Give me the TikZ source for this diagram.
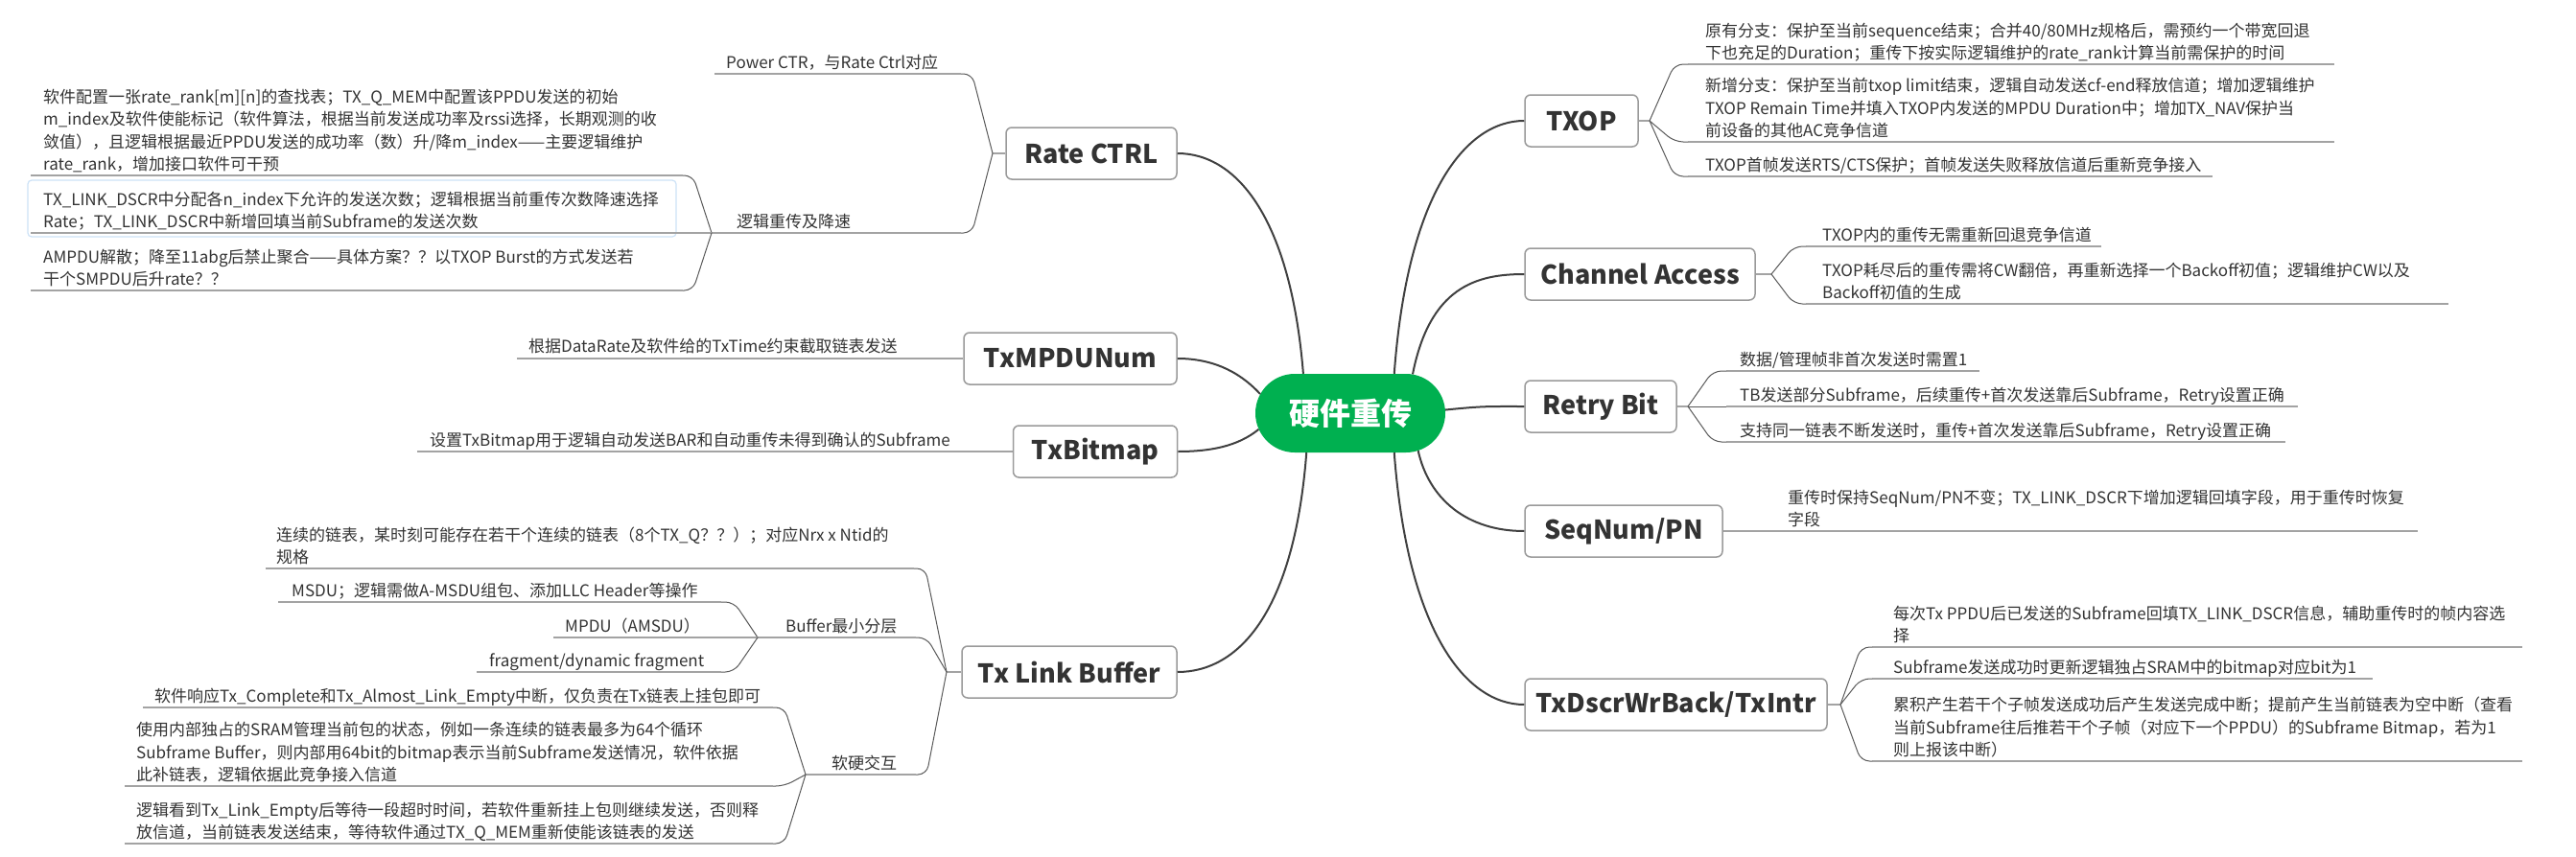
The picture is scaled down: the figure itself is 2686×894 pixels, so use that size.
\documentclass[tikz,border=0pt]{standalone}
\usepackage{fontspec}
\setmainfont{Noto Sans CJK SC}
\usetikzlibrary{shapes.misc,calc}
\definecolor{txt}{HTML}{333333}
\definecolor{boxgray}{HTML}{9A9A9A}
\definecolor{ulgray}{HTML}{A3A3A3}
\definecolor{brgray}{HTML}{5A5A5A}
\definecolor{cngray}{HTML}{404040}
\definecolor{hubgreen}{HTML}{00B050}
\definecolor{hilite}{HTML}{CDE2F7}
\newcommand{\detfnt}{\fontsize{17}{23.5}\selectfont}
\newcommand{\mainfnt}{\fontsize{27}{32}\selectfont\bfseries}
\newcommand{\hubfnt}{\fontsize{32}{38}\selectfont\bfseries}
\newcommand{\mybrk}[4]{\draw[brace,rounded corners=9pt] (#1,#2) -- ({#1+0.35*(#3-#1)},#2) -- (#3,#4);}
\tikzset{
  mainbox/.style={draw=boxgray, line width=1.5pt, rounded corners=6pt, fill=white, font=\mainfnt, text=txt, minimum height=54pt, inner sep=0pt},
  hub/.style={rounded rectangle, fill=hubgreen, text=white, font=\hubfnt, minimum width=198pt, minimum height=82pt, inner sep=0pt},
  det/.style={font=\detfnt, text=txt, align=left, inner sep=0pt, anchor=south west, text depth=0pt},
  uline/.style={draw=ulgray, line width=2pt},
  brace/.style={draw=brgray, line width=1pt},
  conn/.style={draw=cngray, line width=2pt},
}
\begin{document}
\begin{tikzpicture}[x=1pt,y=-1pt]
\useasboundingbox (0,0) rectangle (2686,894);
\fill[white] (0,0) rectangle (2686,894);

% hub and main topics
\node[hub] (hub) at (1408,431) {硬件重传};
\node[mainbox, minimum width=178pt] (rate) at (1138,160) {Rate CTRL};
\node[mainbox, minimum width=222pt] (mpdu) at (1116,374) {TxMPDUNum};
\node[mainbox, minimum width=171pt] (bitmap) at (1142,471) {TxBitmap};
\node[mainbox, minimum width=224pt] (tlb) at (1115,701) {Tx Link Buffer};
\node[mainbox, minimum width=118pt] (txop) at (1649,126) {TXOP};
\node[mainbox, minimum width=240pt] (chan) at (1710,286) {Channel Access};
\node[mainbox, minimum width=158pt] (retry) at (1669,424) {Retry Bit};
\node[mainbox, minimum width=206pt] (seq) at (1693,554) {SeqNum/PN};
\node[mainbox, minimum width=315pt] (dscr) at (1747.5,735) {TxDscrWrBack/TxIntr};

% main connectors
\draw[conn] (hub.140) .. controls +(-13,-160) and +(63,0) .. (rate.east);
\draw[conn] (hub.168) .. controls +(-24,-26) and +(33,0) .. (mpdu.east);
\draw[conn] (hub.190) .. controls +(-22,18) and +(33,0) .. (bitmap.east);
\draw[conn] (hub.-138) .. controls +(-13,168) and +(63,0) .. (tlb.east);
\draw[conn] (hub.42) .. controls +(14,-190) and +(-60,0) .. (txop.west);
\draw[conn] (hub.32) .. controls +(18,-91) and +(-50,0) .. (chan.west);
\draw[conn] (hub.2) .. controls +(40,-4) and +(-40,0) .. (retry.west);
\draw[conn] (hub.-29) .. controls +(11,50) and +(-60,0) .. (seq.west);
\draw[conn] (hub.-42) .. controls +(14,188) and +(-60,0) .. (dscr.west);

% ---------- Rate CTRL ----------
\coordinate (jrc) at (1035,160);
\draw[uline, line width=1.5pt] (rate.west) -- (jrc);
\node[det] (pw) at (757,72) {Power CTR，与Rate Ctrl对应};
\draw[uline] (745,77) -- (1002,77);
\mybrk{1002}{77}{1035}{160}
\node[det] (lj) at (768,238) {逻辑重传及降速};
\draw[uline] (742,243) -- (1002,243);
\mybrk{1002}{243}{1035}{160}
\draw[hilite, line width=1.2pt, rounded corners=4pt] (29,188) rectangle (705,247);
\node[det] (rc1) at (45,178) {软件配置一张rate\_rank[m][n]的查找表；TX\_Q\_MEM中配置该PPDU发送的初始\\m\_index及软件使能标记（软件算法，根据当前发送成功率及rssi选择，长期观测的收\\敛值），且逻辑根据最近PPDU发送的成功率（数）升/降m\_index——主要逻辑维护\\rate\_rank，增加接口软件可干预};
\draw[uline] (32,183) -- (712,183);
\mybrk{712}{183}{742}{243}
\node[det] (rc2) at (45,238) {TX\_LINK\_DSCR中分配各n\_index下允许的发送次数；逻辑根据当前重传次数降速选择\\Rate；TX\_LINK\_DSCR中新增回填当前Subframe的发送次数};
\draw[uline] (32,243) -- (742,243);
\node[det] (rc3) at (45,298) {AMPDU解散；降至11abg后禁止聚合——具体方案？？以TXOP Burst的方式发送若\\干个SMPDU后升rate？？};
\draw[uline] (32,303) -- (712,303);
\mybrk{712}{303}{742}{243}

% ---------- TxMPDUNum / TxBitmap ----------
\node[det] (mp1) at (551,368) {根据DataRate及软件给的TxTime约束截取链表发送};
\draw[uline] (539,374) -- (mpdu.west);
\node[det] (bm1) at (448,466) {设置TxBitmap用于逻辑自动发送BAR和自动重传未得到确认的Subframe};
\draw[uline] (435,471) -- (bitmap.west);

% ---------- Tx Link Buffer ----------
\coordinate (jtl) at (987,701);
\draw[uline, line width=1.5pt] (tlb.west) -- (jtl);
\node[det] (lb1) at (288,588) {连续的链表，某时刻可能存在若干个连续的链表（8个TX\_Q？？）；对应Nrx x Ntid的\\规格};
\draw[uline] (277,593) -- (953,593);
\mybrk{953}{593}{987}{701}
\node[det] (bf) at (819,660) {Buffer最小分层};
\draw[uline] (790,665) -- (955,665);
\mybrk{955}{665}{987}{701}
\node[det] (msdu) at (304,623) {MSDU；逻辑需做A-MSDU组包、添加LLC Header等操作};
\draw[uline] (290,628) -- (752,628);
\mybrk{752}{628}{790}{665}
\node[det] (amsdu) at (589,660) {MPDU（AMSDU）};
\draw[uline] (577,665) -- (790,665);
\node[det] (frag) at (510,696) {fragment/dynamic fragment};
\draw[uline] (497,701) -- (752,701);
\mybrk{752}{701}{790}{665}
\node[det] (rh) at (867,803) {软硬交互};
\draw[uline] (840,808) -- (955,808);
\mybrk{955}{808}{987}{701}
\node[det] (sw1) at (161,733) {软件响应Tx\_Complete和Tx\_Almost\_Link\_Empty中断，仅负责在Tx链表上挂包即可};
\draw[uline] (149,738) -- (806,738);
\mybrk{806}{738}{840}{808}
\node[det] (sw2) at (142,815) {使用内部独占的SRAM管理当前包的状态，例如一条连续的链表最多为64个循环\\Subframe Buffer，则内部用64bit的bitmap表示当前Subframe发送情况，软件依据\\此补链表，逻辑依据此竞争接入信道};
\draw[uline] (130,820) -- (806,820);
\mybrk{806}{820}{840}{808}
\node[det] (sw3) at (142,875) {逻辑看到Tx\_Link\_Empty后等待一段超时时间，若软件重新挂上包则继续发送，否则释\\放信道，当前链表发送结束，等待软件通过TX\_Q\_MEM重新使能该链表的发送};
\draw[uline] (130,880) -- (806,880);
\mybrk{806}{880}{840}{808}

% ---------- TXOP ----------
\coordinate (jtx) at (1720,126);
\draw[uline, line width=1.5pt] (txop.east) -- (jtx);
\node[det] (t1) at (1778,62) {原有分支：保护至当前sequence结束；合并40/80MHz规格后，需预约一个带宽回退\\下也充足的Duration；重传下按实际逻辑维护的rate\_rank计算当前需保护的时间};
\draw[uline] (1760,67) -- (2434,67);
\mybrk{1760}{67}{1720}{126}
\node[det] (t2) at (1778,143) {新增分支：保护至当前txop limit结束，逻辑自动发送cf-end释放信道；增加逻辑维护\\TXOP Remain Time并填入TXOP内发送的MPDU Duration中；增加TX\_NAV保护当\\前设备的其他AC竞争信道};
\draw[uline] (1760,148) -- (2434,148);
\mybrk{1760}{148}{1720}{126}
\node[det] (t3) at (1778,179) {TXOP首帧发送RTS/CTS保护；首帧发送失败释放信道后重新竞争接入};
\draw[uline] (1760,184) -- (2307,184);
\mybrk{1760}{184}{1720}{126}

% ---------- Channel Access ----------
\coordinate (jch) at (1847,286);
\draw[uline, line width=1.5pt] (chan.east) -- (jch);
\node[det] (c1) at (1900,252) {TXOP内的重传无需重新回退竞争信道};
\draw[uline] (1883,257) -- (2191,257);
\mybrk{1883}{257}{1847}{286}
\node[det] (c2) at (1900,312) {TXOP耗尽后的重传需将CW翻倍，再重新选择一个Backoff初值；逻辑维护CW以及\\Backoff初值的生成};
\draw[uline] (1883,317) -- (2553,317);
\mybrk{1883}{317}{1847}{286}

% ---------- Retry Bit ----------
\coordinate (jrb) at (1760,424);
\draw[uline, line width=1.5pt] (retry.east) -- (jrb);
\node[det] (r1) at (1814,382) {数据/管理帧非首次发送时需置1};
\draw[uline] (1800,387) -- (2064,387);
\mybrk{1800}{387}{1760}{424}
\node[det] (r2) at (1814,419) {TB发送部分Subframe，后续重传+首次发送靠后Subframe，Retry设置正确};
\draw[uline] (1800,424) -- (2396,424);
\draw[brace] (1800,424) -- (jrb);
\node[det] (r3) at (1814,456) {支持同一链表不断发送时，重传+首次发送靠后Subframe，Retry设置正确};
\draw[uline] (1800,461) -- (2383,461);
\mybrk{1800}{461}{1760}{424}

% ---------- SeqNum/PN ----------
\node[det] (s1) at (1864,549) {重传时保持SeqNum/PN不变；TX\_LINK\_DSCR下增加逻辑回填字段，用于重传时恢复\\字段};
\draw[uline, line width=1.5pt] (seq.east) -- (1854,554);
\draw[uline] (1854,554) -- (2521,554);

% ---------- TxDscrWrBack/TxIntr ----------
\coordinate (jds) at (1919,735);
\draw[uline, line width=1.5pt] (dscr.east) -- (jds);
\node[det] (d1) at (1974,670) {每次Tx PPDU后已发送的Subframe回填TX\_LINK\_DSCR信息，辅助重传时的帧内容选\\择};
\draw[uline] (1952,675) -- (2630,675);
\mybrk{1952}{675}{1919}{735}
\node[det] (d2) at (1974,703) {Subframe发送成功时更新逻辑独占SRAM中的bitmap对应bit为1};
\draw[uline] (1952,708) -- (2474,708);
\mybrk{1952}{708}{1919}{735}
\node[det] (d3) at (1974,789) {累积产生若干个子帧发送成功后产生发送完成中断；提前产生当前链表为空中断（查看\\当前Subframe往后推若干个子帧（对应下一个PPDU）的Subframe Bitmap，若为1\\则上报该中断）};
\draw[uline] (1952,794) -- (2630,794);
\mybrk{1952}{794}{1919}{735}
\end{tikzpicture}
\end{document}
